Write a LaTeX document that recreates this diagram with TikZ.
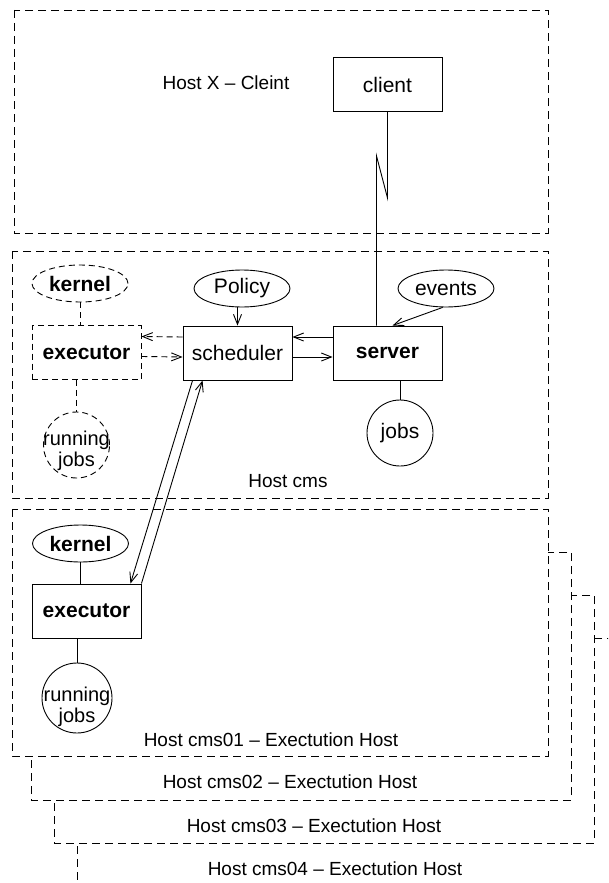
\documentclass[tikz,border=0pt]{standalone}
\usepackage{fontspec}
\setmainfont{Liberation Sans}
\usetikzlibrary{shapes.geometric, arrows.meta, positioning, calc}

\begin{document}
\begin{tikzpicture}[
    x=1pt, y=-1pt,
    line width=0.9pt,
    hostbox/.style={draw, dash pattern=on 8pt off 5pt, fill=white},
    hostlabel/.style={font=\fontsize{19}{22}\selectfont},
    block/.style={rectangle, draw, minimum width=109pt, minimum height=54pt, font=\fontsize{21}{24}\selectfont},
    oval/.style={ellipse, draw, minimum width=96pt, minimum height=37pt, inner sep=0pt, font=\fontsize{21}{24}\selectfont},
    pool/.style={circle, draw, minimum size=66pt, inner sep=0pt, font=\fontsize{21}{24}\selectfont},
    pooltext/.style={align=center, inner sep=0pt, font=\fontsize{20}{21}\selectfont},
    heavy/.style={font=\fontsize{21}{24}\selectfont\bfseries},
    ghost/.style={dash pattern=on 6pt off 4pt},
    arrow/.style={-{Straight Barb[length=10pt, width=8pt]}}
]
    \useasboundingbox (0,0) rectangle (608,883);
    \clip (0,0) rectangle (608,883);

    \draw[hostbox] (77,638) rectangle (617,900);
    \draw[hostbox] (54,595) rectangle (594,843);
    \draw[hostbox] (31,552) rectangle (571,800);
    \draw[hostbox] (12,509) rectangle (548,756);
    \draw[hostbox] (12,251) rectangle (548,498);
    \draw[hostbox] (14,10) rectangle (548,233);

    \node[hostlabel] (hostxlabel) at (226,83) {Host X -- Cleint};
    \node[hostlabel] (hostcmslabel) at (288,481) {Host cms};
    \node[hostlabel] (cms01label) at (271,740) {Host cms01 -- Exectution Host};
    \node[hostlabel] (cms02label) at (290,782) {Host cms02 -- Exectution Host};
    \node[hostlabel] (cms03label) at (314,826) {Host cms03 -- Exectution Host};
    \node[hostlabel] (cms04label) at (335,869) {Host cms04 -- Exectution Host};

    \node[block] (client) at (387.5,84.5) {client};
    \node[block, heavy] (server) at (387.5,353) {server};
    \node[block] (scheduler) at (237.5,353) {scheduler};
    \node[block, heavy, ghost] (executor) at (86.5,352.5) {executor};
    \node[oval, heavy, ghost] (kernel) at (80,283.5) {kernel};
    \node[oval] (policy) at (242,288.5) {Policy};
    \node[oval] (events) at (446,288.5) {events};
    \node[pool, ghost] (running) at (76.5,445) {};
    \node[pooltext] (runningtext) at (76.5,451) {running\\jobs};
    \node[pool] (jobs) at (400,433) {jobs};

    \node[block, heavy] (executor2) at (86.5,611) {executor};
    \node[oval, heavy] (kernel2) at (80.5,543.5) {kernel};
    \node[pool, minimum size=70pt] (running2) at (77,698) {};
    \node[pooltext] (running2text) at (77,707) {running\\jobs};

    \draw[ghost] (kernel.south) -- (kernel.south |- executor.north);
    \draw[ghost] (executor.south -| running.north) -- (running.north);
    \draw[ghost, arrow] ([yshift=16pt]scheduler.west) -- ([yshift=16pt]executor.east);
    \draw[ghost, arrow] ([yshift=-4pt]executor.east) -- ([yshift=-4pt]scheduler.west);
    \draw[arrow] ([yshift=16pt]server.west) -- ([yshift=16pt]scheduler.east);
    \draw[arrow] ([yshift=-4pt]scheduler.east) -- ([yshift=-4pt]server.west);
    \draw[arrow] (scheduler.north |- policy.south) -- (scheduler.north);
    \draw[arrow] (events.-100) -- ([xshift=5pt]server.north);
    \draw (server.south -| jobs.north) -- (jobs.north);
    \draw (client.south) -- ++(0,86) -- ++(-11,-42) -- ([xshift=-11pt]server.north);

    \draw[arrow] ([xshift=10pt]scheduler.south west) -- ([xshift=-11pt]executor2.north east);
    \draw[arrow] (executor2.north east) -- ([xshift=20pt]scheduler.south west);
    \draw (kernel2.south) -- (kernel2.south |- executor2.north);
    \draw (executor2.south -| running2.north) -- (running2.north);
\end{tikzpicture}
\end{document}
